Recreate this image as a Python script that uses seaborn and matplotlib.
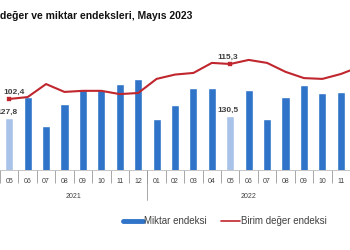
import pandas as pd
import matplotlib
matplotlib.use("Agg")
import matplotlib.pyplot as plt
import matplotlib.transforms as mtransforms
from matplotlib.lines import Line2D
import seaborn as sns

# months visible in the crop (2021-05 ... 2022-11), plus 2022-12 for the line leaving the frame
months = ["05", "06", "07", "08", "09", "10", "11", "12",
          "01", "02", "03", "04", "05", "06", "07", "08", "09", "10", "11"]
years = ["2021", "2022"]
year_span = [(0, 7), (8, 18)]

miktar = [127.8, 151.1, 118.9, 143.4, 158.9, 158.9, 165.6, 171.1,
          126.7, 142.2, 161.1, 161.1, 130.5, 158.9, 126.7, 151.1, 164.5, 155.6, 156.7]
birim = [102.4, 103.1, 107.9, 105.0, 105.4, 105.4, 104.2, 104.6,
         109.8, 111.4, 112.0, 115.7, 115.3, 116.8, 115.7, 112.4, 110.1, 109.8, 111.6, 114.2]
highlight = [0, 12]   # May bars (light) and labelled points

sns.set_theme(style="white")
plt.rcParams["font.family"] = ["Liberation Sans", "DejaVu Sans"]

blue = "#2f74c8"
light = "#a9c3e8"
red = "#c0262d"
txt = "#404040"

df = pd.DataFrame({"key": [f"{i:02d}" for i in range(len(miktar))], "miktar": miktar})
colors = [light if i in highlight else blue for i in range(len(miktar))]

fig = plt.figure(figsize=(3.5, 2.5), dpi=100)
ax = fig.add_axes([0, 80 / 250, 1, 130 / 250])
sns.barplot(data=df, x="key", y="miktar", hue="key", palette=colors,
            legend=False, width=0.44, ax=ax, saturation=1)
ax.set_ylim(70, 214.5)

ax2 = ax.twinx()
line_df = pd.DataFrame({"pos": range(len(birim)), "birim": birim})
sns.lineplot(data=line_df, x="pos", y="birim", color=red, lw=1.5, ax=ax2)
sns.scatterplot(x=highlight, y=[birim[i] for i in highlight], marker="s", s=10,
                color=red, edgecolor=red, ax=ax2, zorder=5)
ax2.set_ylim(76.2, 124.15)

for a in (ax, ax2):
    a.set_xlim(-0.30, 18.31)
    a.set_ylabel("")
    a.set_xlabel("")
    a.set_yticks([])
    for s in ("top", "left", "right"):
        a.spines[s].set_visible(False)
ax2.spines["bottom"].set_visible(False)
ax.spines["bottom"].set_color("#bbbbbb")
ax.spines["bottom"].set_linewidth(0.6)

# value labels
for i in highlight:
    ax.annotate(f"{miktar[i]:.1f}".replace(".", ","), (i, miktar[i]), xytext=(-1.5, 1.5),
                textcoords="offset points", ha="center", va="bottom",
                fontsize=6, fontweight="bold", color=txt)
ax2.annotate("102,4", (0, birim[0]), xytext=(3.5, 2), textcoords="offset points",
             ha="center", va="bottom", fontsize=6, fontweight="bold", color=txt)
ax2.annotate("115,3", (12, birim[12]), xytext=(-2, 2), textcoords="offset points",
             ha="center", va="bottom", fontsize=6, fontweight="bold", color=txt)

# x axis: month labels and separators
ax.set_xticks(range(len(months)))
ax.set_xticklabels(months, fontsize=5, color=txt)
ax.tick_params(axis="x", which="major", bottom=True, length=0, pad=6)
ax.set_xticks([i + 0.5 for i in range(-1, len(months))], minor=True)
ax.tick_params(axis="x", which="minor", bottom=True, length=9, width=0.6,
               color="#999999", direction="out")
trans = mtransforms.blended_transform_factory(ax.transData, ax.transAxes)
ax.plot([7.5, 7.5], [0, -0.23], transform=trans, color="#999999", lw=0.6, clip_on=False)
for y, (a, b) in zip(years, year_span):
    ax.text((a + b) / 2, -0.2, y, transform=trans, ha="center", va="center",
            fontsize=5, color=txt)

fig.text(0.0, 1 - 16 / 250, "değer ve miktar endeksleri, Mayıs 2023",
         fontsize=7.5, fontweight="bold", color="#111111", va="center", ha="left")

handles = [Line2D([0], [0], color=blue, lw=3.5), Line2D([0], [0], color=red, lw=1.2)]
fig.legend(handles, ["Miktar endeksi", "Birim değer endeksi"], loc="center",
           bbox_to_anchor=(225 / 350, 29 / 250), ncol=2, frameon=False, fontsize=7,
           handlelength=2.0, handletextpad=0.1, columnspacing=1.5, labelcolor=txt)

fig.savefig("out.png", dpi=100)
